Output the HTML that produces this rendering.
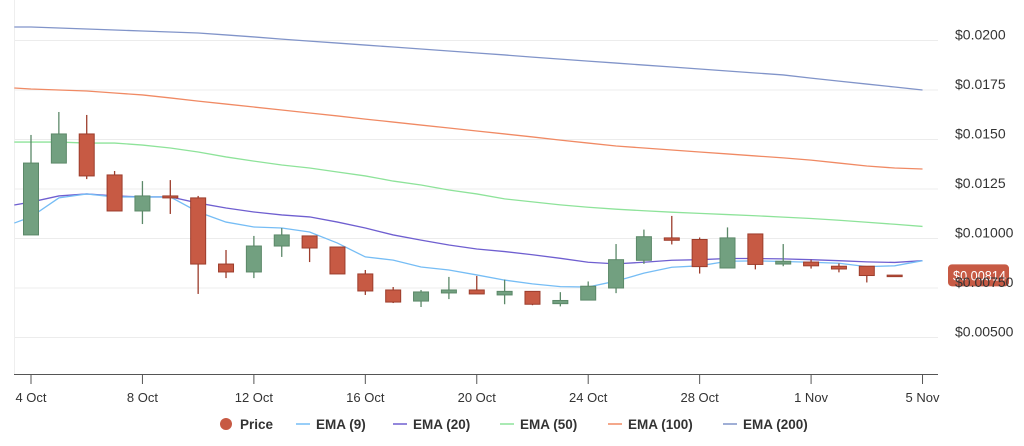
<!DOCTYPE html>
<html><head><meta charset="utf-8"><style>
html,body{margin:0;padding:0;background:#fff;}
svg{display:block;font-family:"Liberation Sans",Arial,sans-serif;}
</style></head><body>
<svg id="chart" width="1024" height="446" viewBox="0 0 1024 446">
<g id="grid"></g>
<g id="yaxis"></g>
<g id="xaxis"></g>
<g id="emas"></g>
<g id="candles"></g>
<g id="badge"></g>
<g id="legend"></g>
</svg>
<script>
const dates=["4 Oct","5 Oct","6 Oct","7 Oct","8 Oct","9 Oct","10 Oct","11 Oct","12 Oct","13 Oct","14 Oct","15 Oct","16 Oct","17 Oct","18 Oct","19 Oct","20 Oct","21 Oct","22 Oct","23 Oct","24 Oct","25 Oct","26 Oct","27 Oct","28 Oct","29 Oct","30 Oct","31 Oct","1 Nov","2 Nov","3 Nov","4 Nov"];
const opens=[0.01018,0.01381,0.01528,0.01321,0.01139,0.01215,0.01205,0.00871,0.00831,0.00962,0.01013,0.00957,0.00821,0.00740,0.00684,0.00725,0.00740,0.00715,0.00733,0.00671,0.00689,0.00750,0.00890,0.01003,0.00995,0.00851,0.01023,0.00871,0.00881,0.00860,0.00860,0.00815];
const closes=[0.01381,0.01528,0.01316,0.01139,0.01215,0.01205,0.00871,0.00831,0.00962,0.01018,0.00952,0.00821,0.00735,0.00679,0.00730,0.00740,0.00720,0.00733,0.00668,0.00687,0.00759,0.00893,0.01009,0.00991,0.00858,0.01003,0.00869,0.00885,0.00862,0.00846,0.00813,0.00814];
const highs=[0.01523,0.01639,0.01624,0.01341,0.01290,0.01295,0.01215,0.00942,0.01013,0.01053,0.01013,0.00957,0.00841,0.00755,0.00740,0.00806,0.00811,0.00792,0.00733,0.00729,0.00783,0.00972,0.01045,0.01114,0.01005,0.01056,0.01023,0.00972,0.00893,0.00874,0.00860,0.00815];
const lows=[0.01018,0.01381,0.01300,0.01139,0.01073,0.01124,0.00720,0.00800,0.00800,0.00907,0.00881,0.00821,0.00715,0.00674,0.00654,0.00694,0.00720,0.00668,0.00663,0.00657,0.00689,0.00724,0.00872,0.00970,0.00823,0.00851,0.00844,0.00860,0.00848,0.00829,0.00778,0.00814];
const emaDays=[-0.6,0,1,2,3,4,5,6,7,8,9,10,11,12,13,14,15,16,17,18,19,20,21,22,23,24,25,26,27,28,29,30,31,32];
const ema9=[0.01078,0.01109,0.01205,0.01225,0.01210,0.01210,0.01210,0.01134,0.01083,0.01058,0.01053,0.01033,0.00977,0.00907,0.00891,0.00856,0.00841,0.00816,0.00790,0.00771,0.00757,0.00755,0.00785,0.00825,0.00855,0.00862,0.00885,0.00887,0.00884,0.00880,0.00875,0.00858,0.00862,0.00888];
const ema20=[0.01169,0.01184,0.01215,0.01225,0.01215,0.01210,0.01210,0.01179,0.01154,0.01134,0.01119,0.01109,0.01083,0.01053,0.01018,0.00992,0.00967,0.00947,0.00934,0.00918,0.00900,0.00880,0.00872,0.00880,0.00890,0.00893,0.00899,0.00899,0.00897,0.00893,0.00888,0.00882,0.00879,0.00888];
const ema50=[0.01487,0.01487,0.01487,0.01482,0.01482,0.01472,0.01457,0.01437,0.01412,0.01391,0.01371,0.01356,0.01336,0.01316,0.01290,0.01270,0.01245,0.01225,0.01200,0.01185,0.01170,0.01158,0.01148,0.01140,0.01133,0.01127,0.01121,0.01115,0.01108,0.01101,0.01092,0.01082,0.01072,0.01061];
const ema100=[0.01760,0.01755,0.01750,0.01745,0.01735,0.01725,0.01710,0.01694,0.01679,0.01664,0.01649,0.01634,0.01619,0.01603,0.01588,0.01573,0.01558,0.01543,0.01528,0.01513,0.01497,0.01482,0.01467,0.01457,0.01447,0.01437,0.01427,0.01417,0.01407,0.01396,0.01381,0.01366,0.01356,0.01351];
const ema200=[0.02068,0.02068,0.02063,0.02058,0.02053,0.02048,0.02043,0.02038,0.02028,0.02018,0.02007,0.01997,0.01987,0.01977,0.01967,0.01957,0.01947,0.01937,0.01927,0.01916,0.01906,0.01896,0.01886,0.01876,0.01866,0.01856,0.01846,0.01836,0.01826,0.01810,0.01795,0.01780,0.01765,0.01750];
const yTicks=[0.005,0.0075,0.01,0.0125,0.015,0.0175,0.02];
const yTickLabels=["$0.00500","$0.00750","$0.01000","$0.0125","$0.0150","$0.0175","$0.0200"];
const xTickDays=[0,4,8,12,16,20,24,28,32];
const xTickLabels=["4 Oct","8 Oct","12 Oct","16 Oct","20 Oct","24 Oct","28 Oct","1 Nov","5 Nov"];
const lastPrice=0.00814;

const NS="http://www.w3.org/2000/svg";
function X(d){return 31+d*27.86;}
function Y(v){return 238.5-(v-0.01)*19800;}
function mk(tag,attrs,parent){const e=document.createElementNS(NS,tag);for(const k in attrs)e.setAttribute(k,attrs[k]);parent.appendChild(e);return e;}
const grid=document.getElementById('grid'),yax=document.getElementById('yaxis'),xax=document.getElementById('xaxis');
yTicks.forEach((t,i)=>{
  const l=mk('line',{x1:15,x2:938,y1:Y(t),y2:Y(t),stroke:'#ececec','stroke-width':1},grid);
  
  
  if(t===0.0075) return;
  const tx=mk('text',{x:955,y:Y(t)-1,'font-size':14,fill:'#333'},yax);
  tx.textContent=yTickLabels[i];
  
  
});
const vl=mk('line',{x1:14.5,x2:14.5,y1:0,y2:374,stroke:'#eee'},grid);


const ax=mk('line',{x1:14,x2:938,y1:374.5,y2:374.5,stroke:'#555','stroke-width':1},xax);


xTickDays.forEach((d,i)=>{
  const t=mk('line',{x1:X(d),x2:X(d),y1:374,y2:384,stroke:'#555'},xax);
  
  
  const tx=mk('text',{x:X(d),y:402,'font-size':13,fill:'#333','text-anchor':'middle'},xax);
  tx.textContent=xTickLabels[i];
  
  
});
const emaG=document.getElementById('emas');
const series=[[ema200,'#8194c9','ema-200-line'],[ema100,'#f08a64','ema-100-line'],[ema50,'#8ee39a','ema-50-line'],[ema20,'#6f5fd0','ema-20-line'],[ema9,'#76bdf5','ema-9-line']];
series.forEach(s=>{
  const p=mk('polyline',{points:s[0].map((v,i)=>X(emaDays[i])+','+Y(v)).join(' '),fill:'none',stroke:s[1],'stroke-width':1.3},emaG);
  
  
});
const cg=document.getElementById('candles');
dates.forEach((d,i)=>{
  const up=closes[i]>=opens[i];
  const fill=up?'#72a080':'#c75a44',stroke=up?'#5b8868':'#9c3d2c';
  const g=mk('g',{},cg);
  
  
  mk('line',{x1:X(i),x2:X(i),y1:Y(highs[i]),y2:Y(lows[i]),stroke:stroke,'stroke-width':1.3},g);
  const top=Y(Math.max(opens[i],closes[i])),bot=Y(Math.min(opens[i],closes[i]));
  mk('rect',{x:X(i)-7.5,y:top,width:15,height:Math.max(bot-top,1.5),fill:fill,stroke:stroke,'stroke-width':1},g);
});
const bg=document.getElementById('badge');
const by=Y(lastPrice);
mk('rect',{x:948,y:by-11,width:61,height:22,rx:4,fill:'#c75a44'},bg);
const bt=mk('text',{x:953,y:by+5,'font-size':14,fill:'#fff',textLength:53,lengthAdjust:'spacingAndGlyphs'},bg);
bt.textContent='$0.00814';


const lt=mk('text',{x:955,y:Y(0.0075)-1,'font-size':14,fill:'#333'},bg);
lt.textContent='$0.00750';


const lg=document.getElementById('legend');
const items=[['Price','#c75a44',220,'dot'],['EMA (9)','#76bdf5',296,'line'],['EMA (20)','#6f5fd0',393,'line'],['EMA (50)','#8ee39a',500,'line'],['EMA (100)','#f08a64',608,'line'],['EMA (200)','#8194c9',723,'line']];
items.forEach(it=>{
  const g=mk('g',{},lg);
  
  
  if(it[3]==='dot') mk('circle',{cx:it[2]+6,cy:424,r:6,fill:it[1]},g);
  else mk('line',{x1:it[2],x2:it[2]+14,y1:424,y2:424,stroke:it[1],'stroke-width':1.5},g);
  const t=mk('text',{x:it[2]+20,y:429,'font-size':13.5,'font-weight':'bold',fill:'#333'},g);
  t.textContent=it[0];
});
</script>
</body></html>
